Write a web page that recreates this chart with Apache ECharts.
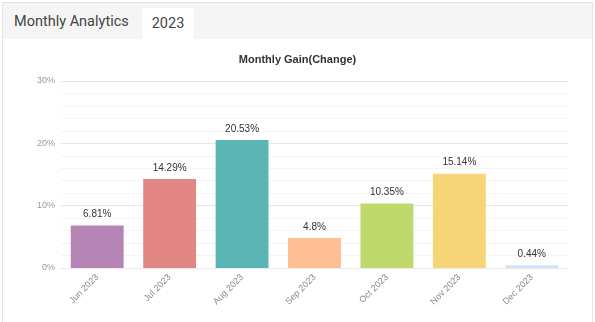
<!DOCTYPE html>
<html>
<head>
<meta charset="utf-8">
<script src="https://cdn.jsdelivr.net/npm/echarts@6/dist/echarts.min.js"></script>
<style>
html,body{margin:0;padding:0;background:#fff;width:595px;height:322px;overflow:hidden;}
#frame{position:absolute;left:2px;top:2px;width:591px;height:320px;border-top:1px solid #e2e2e2;border-left:1px solid #e6e6e6;border-right:1px solid #e6e6e6;box-sizing:border-box;}
#header{position:absolute;left:0;top:0;width:100%;height:36px;background:#f5f5f5;}
#hTitle{position:absolute;left:11px;top:10px;font-family:Roboto,"Noto Sans",sans-serif;font-size:14.5px;color:#444;}
#tab{position:absolute;left:139px;top:5px;width:52px;height:31px;background:#fff;font-family:Roboto,"Noto Sans",sans-serif;font-size:14.5px;color:#444;text-align:center;line-height:31px;}
#chart{position:absolute;left:0;top:0;width:595px;height:322px;}
</style>
</head>
<body>
<div id="frame"><div id="header"><div id="hTitle">Monthly Analytics</div><div id="tab">2023</div></div></div>
<div id="chart"></div>
<script>
const categories = ["Jun 2023","Jul 2023","Aug 2023","Sep 2023","Oct 2023","Nov 2023","Dec 2023"];
const gains = [6.81, 14.29, 20.53, 4.8, 10.35, 15.14, 0.44];
const barColors = ["#b484b4","#e38785","#5bb5b5","#ffbe94","#bfd96d","#f5d576","#cfe4f7"];
const yTicks = [0, 10, 20, 30];

const chart = echarts.init(document.getElementById('chart'), null, {renderer:'canvas'});
chart.setOption({
  animation:false,
  title:{
    text:'Monthly Gain(Change)', left:'center', top:49,
    textStyle:{fontFamily:'Liberation Sans, Arial, sans-serif', fontSize:11, fontWeight:'bold', color:'#333'}
  },
  grid:{left:61, right:27, top:81, bottom:54, containLabel:false},
  xAxis:{
    type:'category', data:categories,
    axisLine:{show:true, lineStyle:{color:'#e8e8e8'}},
    axisTick:{show:false},
    axisLabel:{rotate:45, color:'#888', fontSize:9, fontFamily:'Liberation Sans, Arial, sans-serif', margin:8}
  },
  yAxis:{
    type:'value', min:yTicks[0], max:yTicks[yTicks.length-1], interval:10,
    axisLine:{show:false}, axisTick:{show:false},
    axisLabel:{formatter:'{value}%', color:'#999', fontSize:9, fontFamily:'Liberation Sans, Arial, sans-serif', margin:6},
    splitLine:{lineStyle:{color:'#e6e6e6'}},
    minorTick:{show:false, splitNumber:5},
    minorSplitLine:{show:true, lineStyle:{color:'#f4f4f4'}}
  },
  series:[{
    type:'bar', barWidth:'73%',
    data:gains.map((v,i)=>({value:v, itemStyle:{color:barColors[i]}})),
    label:{show:true, position:'top', distance:6, formatter:p=>p.value+'%', color:'#333', fontSize:10, fontFamily:'Liberation Sans, Arial, sans-serif'}
  }]
});
</script>
</body>
</html>
